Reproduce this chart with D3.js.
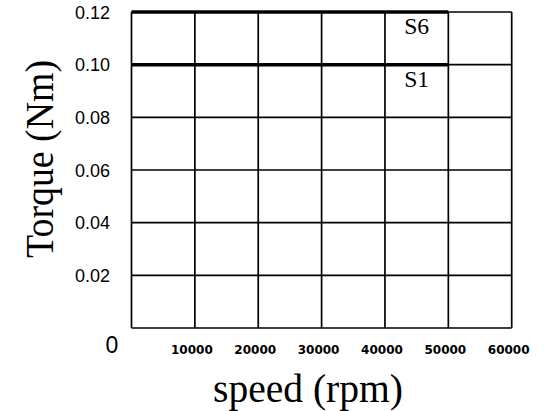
<!DOCTYPE html>
<html>
<head>
<meta charset="utf-8">
<script src="https://cdn.jsdelivr.net/npm/d3@7"></script>
<style>
  body { margin: 0; background: #fff; }
  svg { display: block; }
</style>
</head>
<body>
<svg id="chart" width="550" height="411"></svg>
<script>
// tick values
const speedTicks = [0, 10000, 20000, 30000, 40000, 50000, 60000];
const speedTickLabels = ["", "10000", "20000", "30000", "40000", "50000", "60000"];
const torqueTicks = [0, 0.02, 0.04, 0.06, 0.08, 0.10, 0.12];
const torqueTickLabels = ["0", "0.02", "0.04", "0.06", "0.08", "0.10", "0.12"];

// rated curves (speed, torque)
const seriesNames = ["S6", "S1"];
const s6Speed = [0, 50000];
const s6Torque = [0.12, 0.12];
const s1Speed = [0, 50000];
const s1Torque = [0.10, 0.10];
const labelSpeed = [45000, 45000];
const labelTorque = [0.1115, 0.0915];

const svg = d3.select("#chart");

const x = d3.scaleLinear().domain([0, 60000]).range([131.5, 511.7]);
const y = d3.scaleLinear().domain([0, 0.12]).range([328, 12]);

// grid
const grid = svg.append("g").attr("stroke", "#000").attr("stroke-width", 1.7);
grid.selectAll("line.h")
    .data(torqueTicks)
    .join("line")
    .attr("class", "h")
    .attr("x1", x(0)).attr("x2", x(60000))
    .attr("y1", d => y(d)).attr("y2", d => y(d));
grid.selectAll("line.v")
    .data(speedTicks)
    .join("line")
    .attr("class", "v")
    .attr("x1", d => x(d)).attr("x2", d => x(d))
    .attr("y1", y(0)).attr("y2", y(0.12));

// curves
const curves = [
    s6Speed.map((s, i) => [s, s6Torque[i]]),
    s1Speed.map((s, i) => [s, s1Torque[i]])
];
const line = d3.line().x(d => x(d[0])).y(d => y(d[1]));
svg.append("g")
    .selectAll("path")
    .data(curves)
    .join("path")
    .attr("d", line)
    .attr("fill", "none")
    .attr("stroke", "#000")
    .attr("stroke-width", 3.5);

svg.append("g")
    .selectAll("text")
    .data(seriesNames)
    .join("text")
    .attr("x", (d, i) => x(labelSpeed[i]))
    .attr("y", (d, i) => y(labelTorque[i]))
    .attr("text-anchor", "middle")
    .attr("font-family", "Liberation Serif, serif")
    .attr("font-size", 24)
    .attr("textLength", 25)
    .attr("lengthAdjust", "spacingAndGlyphs")
    .text(d => d);

// y tick labels
svg.append("g")
    .selectAll("text")
    .data(torqueTicks.slice(1))
    .join("text")
    .attr("x", 75)
    .attr("y", d => y(d) + 6.5)
    .attr("font-family", "Liberation Sans, Arial, sans-serif")
    .attr("font-size", 18)
    .text((d, i) => torqueTickLabels[i + 1]);

svg.append("text")
    .attr("x", 112)
    .attr("y", 353)
    .attr("text-anchor", "middle")
    .attr("font-family", "Liberation Sans, Arial, sans-serif")
    .attr("font-size", 23)
    .text(torqueTickLabels[0]);

// x tick labels
svg.append("g")
    .selectAll("text")
    .data(speedTicks.slice(1))
    .join("text")
    .attr("x", d => x(d) - 3)
    .attr("y", 354)
    .attr("text-anchor", "middle")
    .attr("font-family", "DejaVu Sans, Verdana, sans-serif")
    .attr("font-weight", "bold")
    .attr("font-size", 12)
    .text((d, i) => speedTickLabels[i + 1]);

// axis titles
svg.append("text")
    .attr("x", 308)
    .attr("y", 402)
    .attr("text-anchor", "middle")
    .attr("font-family", "Liberation Serif, serif")
    .attr("font-size", 41)
    .attr("textLength", 190)
    .attr("lengthAdjust", "spacingAndGlyphs")
    .text("speed (rpm)");

svg.append("text")
    .attr("transform", "translate(53,159) rotate(-90)")
    .attr("text-anchor", "middle")
    .attr("font-family", "Liberation Serif, serif")
    .attr("font-size", 40)
    .attr("textLength", 198)
    .attr("lengthAdjust", "spacingAndGlyphs")
    .text("Torque (Nm)");
</script>
</body>
</html>
